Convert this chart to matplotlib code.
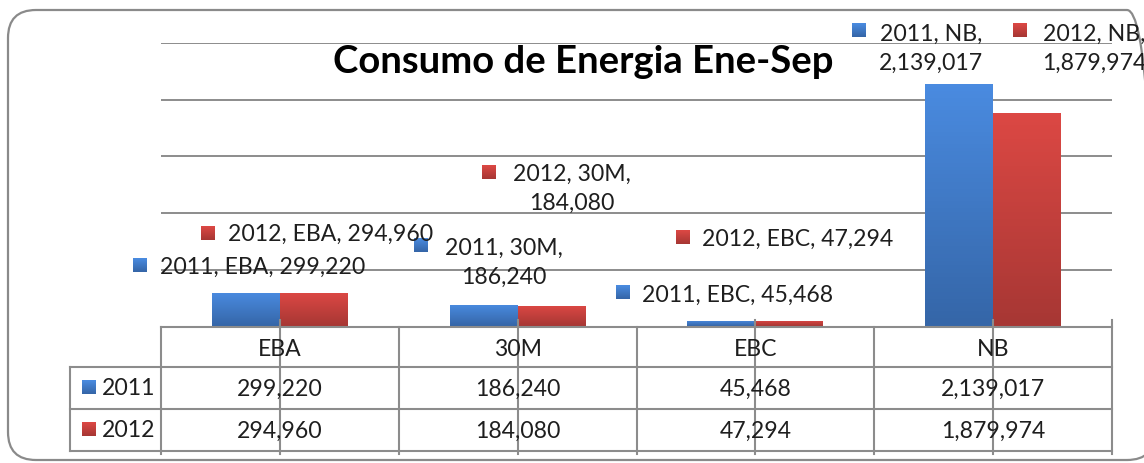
import matplotlib
matplotlib.use("Agg")
import matplotlib.pyplot as plt
from matplotlib.colors import LinearSegmentedColormap
from matplotlib.patches import Rectangle, FancyBboxPatch
from matplotlib.transforms import IdentityTransform
import numpy as np

categories = ["EBA", "30M", "EBC", "NB"]
years = ["2011", "2012"]
values_2011 = [299220, 186240, 45468, 2139017]
values_2012 = [294960, 184080, 47294, 1879974]
title = "Consumo de Energia Ene-Sep"

W, H = 1144, 464
FONT = "Lato"
FS = 16.6
TXT = "#1e1e1e"
GRID = "#8c8c8c"
# top / bottom gradient colours per series
COLS = [("#4a8be0", "#3566a8"), ("#dc4844", "#a73734")]


def fx(x):
    return x / W


def fy(y):
    return 1 - y / H


fig = plt.figure(figsize=(W / 100, H / 100), dpi=100)

# outer rounded frame, drawn in pixels (origin bottom left)
frame = FancyBboxPatch((8, H - 461), 1155 - 8, 461 - 11,
                       boxstyle="round,pad=0,rounding_size=28",
                       transform=IdentityTransform(), fill=False,
                       edgecolor="#8a8a8a", linewidth=1.6)
fig.patches.append(frame)

left, right, top, bottom = 161, 1112, 44, 327.5
ax = fig.add_axes([fx(left), fy(bottom), fx(right - left), fy(top) - fy(bottom)])
for s in ax.spines.values():
    s.set_visible(False)
ax.set_xticks([])
ax.set_yticks(np.arange(500000, 2500001, 500000))
ax.tick_params(axis="y", length=0, labelleft=False)
ax.yaxis.grid(True, color=GRID, linewidth=1.4)
ax.set_axisbelow(True)

x = np.arange(len(categories))
bw = 0.286
series = [values_2011, values_2012]
for i, vals in enumerate(series):
    bars = ax.bar(x + (i - 0.5) * bw, vals, bw, color=COLS[i][1], zorder=2)
    cmap = LinearSegmentedColormap.from_list("g%d" % i, [COLS[i][1], COLS[i][0]])
    grad = np.linspace(0, 1, 64).reshape(-1, 1)
    for b in bars:
        x0, y0 = b.get_x(), b.get_y()
        im = ax.imshow(grad, extent=[x0, x0 + b.get_width(), y0, y0 + b.get_height()],
                       origin="lower", aspect="auto", cmap=cmap, zorder=3)
        im.set_clip_path(b)
ax.set_xlim(-0.5, 3.5)
ax.set_ylim(0, 2500000)

fig.text(fx(583), fy(62), title, ha="center", va="center", fontsize=27.5,
         fontweight="bold", family=FONT, color="black")

# data table
t_rows = [bottom, 368, 410, 452]
tl = dict(color=GRID, linewidth=1.5, transform=fig.transFigure)
fig.add_artist(plt.Line2D([fx(left), fx(right)], [fy(bottom)] * 2, **tl))
for yy in t_rows[1:]:
    fig.add_artist(plt.Line2D([fx(70), fx(right)], [fy(yy)] * 2, **tl))
fig.add_artist(plt.Line2D([fx(70), fx(70)], [fy(368), fy(452)], **tl))
cw = (right - left) / len(categories)
for k in range(len(categories) + 1):
    xx = left + k * cw
    y0 = 321 if k == len(categories) else bottom
    fig.add_artist(plt.Line2D([fx(xx)] * 2, [fy(y0), fy(455)], **tl))
for k in range(len(categories)):
    xx = left + (k + 0.5) * cw
    fig.add_artist(plt.Line2D([fx(xx)] * 2, [fy(321), fy(455)], **tl))
    fig.text(fx(xx), fy(349), categories[k], ha="center", va="center",
             fontsize=FS, family=FONT, color=TXT)
    for r, vals in enumerate(series):
        fig.text(fx(xx), fy(389 + 42 * r), f"{vals[k]:,}", ha="center", va="center",
                 fontsize=FS, family=FONT, color=TXT)


def square(cx, cy, i, size=14):
    cmap = LinearSegmentedColormap.from_list("s%d" % i, [COLS[i][1], COLS[i][0]])
    sax = fig.add_axes([fx(cx - size / 2), fy(cy + size / 2), fx(size), fy(0) - fy(size)])
    sax.imshow(np.linspace(0, 1, 16).reshape(-1, 1), origin="lower",
               aspect="auto", cmap=cmap)
    sax.set_axis_off()


for r, yr in enumerate(years):
    square(88.5, 388 + 42 * r, r)
    fig.text(fx(102), fy(389 + 42 * r), yr, ha="left", va="center",
             fontsize=FS, family=FONT, color=TXT)

# data labels: (series, category, square centre px, text anchor px, two lines)
label_pos = [
    (0, 0, (140, 266), (160, 267), False),
    (1, 0, (208, 234), (228, 234), False),
    (0, 1, (421, 246), (504, 263), True),
    (1, 1, (489, 173), (572, 189), True),
    (0, 2, (623, 293), (642, 295), False),
    (1, 2, (683, 238), (702, 239), False),
    (0, 3, (859, 31), (931, 49), True),
    (1, 3, (1020, 31), (1094, 49), True),
]
for i, k, sq, tx, two in label_pos:
    v = series[i][k]
    square(sq[0], sq[1], i)
    if two:
        fig.text(fx(tx[0]), fy(tx[1]), f"{years[i]}, {categories[k]},\n{v:,}",
                 ha="center", va="center", multialignment="center",
                 fontsize=FS, family=FONT, color=TXT, linespacing=1.5)
    else:
        fig.text(fx(tx[0]), fy(tx[1]), f"{years[i]}, {categories[k]}, {v:,}",
                 ha="left", va="center", fontsize=FS, family=FONT, color=TXT)

fig.savefig("out.png", dpi=100)
